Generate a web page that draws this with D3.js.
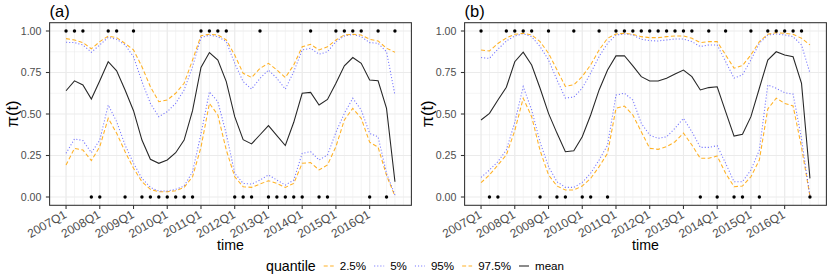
<!DOCTYPE html>
<html>
<head>
<meta charset="utf-8">
<script src="https://cdn.jsdelivr.net/npm/d3@7"></script>
<style>
  body { margin: 0; background: #fff; }
  text { font-family: "Liberation Sans", Arial, sans-serif; }
</style>
</head>
<body>
<div id="chart"></div>
<script>
// quarters 2007Q1 .. 2016Q4, x is the quarter index
const tickLabels = ["2007Q1", "2008Q1", "2009Q1", "2010Q1", "2011Q1", "2012Q1", "2013Q1", "2014Q1", "2015Q1", "2016Q1"];
const tickIndex = [0, 4, 8, 12, 16, 20, 24, 28, 32, 36];
const yTicks = [0, 0.25, 0.5, 0.75, 1];
const quantileNames = ["2.5%", "5%", "95%", "97.5%", "mean"];

// panel (a)
const obsA = [1,1,1,0,0,1,1,0,1,0, 0,0,0,0,0,0,1,1,1,1, 0,0,0,1,0,0,0,0,0,1, 0,0,1,1,1,1,0,1,0,1];
const meanA = [0.64, 0.70, 0.675, 0.59, 0.70, 0.815, 0.76, 0.645, 0.52, 0.343, 0.227, 0.203, 0.223, 0.267, 0.343, 0.52, 0.78, 0.87, 0.825, 0.695,
  0.484, 0.345, 0.32, 0.375, 0.43, 0.37, 0.31, 0.45, 0.625, 0.63, 0.554, 0.588, 0.685, 0.79, 0.84, 0.805, 0.705, 0.70, 0.534, 0.092];
const q975A = [0.954, 0.946, 0.93, 0.893, 0.936, 0.97, 0.96, 0.925, 0.886, 0.785, 0.664, 0.574, 0.584, 0.625, 0.685, 0.825, 0.972, 0.98, 0.976, 0.946,
  0.855, 0.745, 0.72, 0.775, 0.805, 0.765, 0.72, 0.795, 0.905, 0.92, 0.886, 0.905, 0.946, 0.976, 0.98, 0.976, 0.95, 0.94, 0.896, 0.872];
const q95A = [0.932, 0.93, 0.916, 0.872, 0.916, 0.962, 0.95, 0.916, 0.845, 0.695, 0.564, 0.484, 0.514, 0.564, 0.645, 0.785, 0.96, 0.975, 0.966, 0.936,
  0.805, 0.695, 0.65, 0.715, 0.765, 0.715, 0.65, 0.755, 0.886, 0.896, 0.86, 0.875, 0.936, 0.97, 0.98, 0.966, 0.93, 0.926, 0.875, 0.614];
const q05A = [0.263, 0.35, 0.34, 0.267, 0.343, 0.554, 0.454, 0.313, 0.203, 0.112, 0.058, 0.036, 0.036, 0.046, 0.066, 0.152, 0.38, 0.634, 0.574, 0.38,
  0.143, 0.082, 0.078, 0.102, 0.133, 0.102, 0.072, 0.102, 0.263, 0.273, 0.223, 0.253, 0.39, 0.504, 0.595, 0.524, 0.383, 0.363, 0.143, 0.012];
const q025A = [0.193, 0.293, 0.283, 0.219, 0.303, 0.474, 0.384, 0.273, 0.173, 0.092, 0.046, 0.032, 0.032, 0.038, 0.058, 0.122, 0.30, 0.564, 0.494, 0.283,
  0.122, 0.062, 0.058, 0.078, 0.098, 0.082, 0.058, 0.082, 0.203, 0.207, 0.163, 0.193, 0.303, 0.464, 0.534, 0.474, 0.33, 0.30, 0.13, 0.005];

// panel (b)
const obsB = [1,0,0,1,1,1,1,0,1,0, 0,1,0,0,1,0,1,1,1,1, 1,1,1,1,1,1,0,1,0,1, 0,0,1,0,1,1,1,1,1,0];
const meanB = [0.464, 0.504, 0.584, 0.661, 0.815, 0.872, 0.795, 0.655, 0.504, 0.385, 0.273, 0.279, 0.363, 0.494, 0.645, 0.765, 0.85, 0.851, 0.79, 0.725,
  0.699, 0.699, 0.715, 0.741, 0.765, 0.725, 0.645, 0.659, 0.664, 0.514, 0.367, 0.378, 0.484, 0.655, 0.825, 0.875, 0.855, 0.845, 0.685, 0.112];
const q975B = [0.885, 0.88, 0.925, 0.958, 0.98, 0.986, 0.976, 0.936, 0.866, 0.766, 0.666, 0.676, 0.726, 0.796, 0.886, 0.956, 0.982, 0.986, 0.98, 0.966,
  0.96, 0.96, 0.966, 0.97, 0.97, 0.956, 0.93, 0.936, 0.936, 0.856, 0.776, 0.792, 0.856, 0.936, 0.98, 0.99, 0.986, 0.98, 0.956, 0.916];
const q95B = [0.84, 0.835, 0.89, 0.94, 0.97, 0.984, 0.966, 0.906, 0.826, 0.706, 0.596, 0.602, 0.656, 0.746, 0.846, 0.926, 0.976, 0.982, 0.976, 0.95,
  0.942, 0.94, 0.946, 0.952, 0.952, 0.936, 0.906, 0.916, 0.916, 0.816, 0.716, 0.736, 0.826, 0.926, 0.976, 0.982, 0.976, 0.966, 0.916, 0.746];
const q05B = [0.118, 0.163, 0.213, 0.283, 0.45, 0.665, 0.524, 0.33, 0.183, 0.092, 0.058, 0.058, 0.088, 0.143, 0.223, 0.313, 0.614, 0.625, 0.584, 0.444,
  0.373, 0.353, 0.363, 0.414, 0.474, 0.393, 0.299, 0.299, 0.309, 0.203, 0.092, 0.092, 0.163, 0.283, 0.675, 0.655, 0.628, 0.62, 0.35, 0.005];
const q025B = [0.086, 0.133, 0.193, 0.253, 0.40, 0.595, 0.484, 0.28, 0.133, 0.066, 0.042, 0.042, 0.066, 0.112, 0.183, 0.263, 0.534, 0.548, 0.494, 0.393,
  0.293, 0.287, 0.303, 0.333, 0.385, 0.313, 0.233, 0.233, 0.247, 0.143, 0.062, 0.066, 0.122, 0.223, 0.53, 0.595, 0.564, 0.548, 0.30, 0.005];

const width = 830, height = 277;
const styles = {
  "2.5%":  { color: "#FFA500", dash: "4,2.4", opacity: 0.85 },
  "5%":    { color: "#3b3bff", dash: "1.1,2", opacity: 0.7 },
  "95%":   { color: "#3b3bff", dash: "1.1,2", opacity: 0.7 },
  "97.5%": { color: "#FFA500", dash: "4,2.4", opacity: 0.85 },
  "mean":  { color: "#000000", dash: null, opacity: 0.85 }
};

const svg = d3.select("#chart").append("svg")
  .attr("width", width).attr("height", height);

function drawPanel(left, right, tag, obs, series) {
  const top = 22.7, bottom = 205.3;
  const x = d3.scaleLinear().domain([-1.95, 40.95]).range([left, right]);
  const y = d3.scaleLinear().domain([-0.05, 1.05]).range([bottom, top]);
  const g = svg.append("g");

  // grid: minor (quarters / eighths) then major
  const quarters = d3.range(0, 41);
  g.selectAll(".vminor").data(quarters).enter().append("line")
    .attr("x1", d => x(d)).attr("x2", d => x(d))
    .attr("y1", top).attr("y2", bottom)
    .attr("stroke", "#ebebeb").attr("stroke-width", 0.55);
  g.selectAll(".hminor").data([0.125, 0.375, 0.625, 0.875]).enter().append("line")
    .attr("x1", left).attr("x2", right)
    .attr("y1", d => y(d)).attr("y2", d => y(d))
    .attr("stroke", "#ebebeb").attr("stroke-width", 0.55);
  g.selectAll(".vmajor").data(tickIndex).enter().append("line")
    .attr("x1", d => x(d)).attr("x2", d => x(d))
    .attr("y1", top).attr("y2", bottom)
    .attr("stroke", "#ebebeb").attr("stroke-width", 1.07);
  g.selectAll(".hmajor").data(yTicks).enter().append("line")
    .attr("x1", left).attr("x2", right)
    .attr("y1", d => y(d)).attr("y2", d => y(d))
    .attr("stroke", "#ebebeb").attr("stroke-width", 1.07);

  // quantile and mean lines
  const line = d3.line().x((d, i) => x(i)).y(d => y(d));
  series.forEach(s => {
    const st = styles[s.name];
    g.append("path")
      .datum(s.values)
      .attr("d", line)
      .attr("fill", "none")
      .attr("stroke", st.color)
      .attr("stroke-opacity", st.opacity)
      .attr("stroke-width", 1.07)
      .attr("stroke-dasharray", st.dash);
  });

  // observed outcomes
  g.selectAll(".pt").data(obs).enter().append("circle")
    .attr("cx", (d, i) => x(i))
    .attr("cy", d => y(d))
    .attr("r", 1.7)
    .attr("fill", "#000");

  // panel border
  g.append("rect")
    .attr("x", left).attr("y", top)
    .attr("width", right - left).attr("height", bottom - top)
    .attr("fill", "none").attr("stroke", "#333333").attr("stroke-width", 1.07);

  // y axis
  g.selectAll(".ytick").data(yTicks).enter().append("line")
    .attr("x1", left - 3.7).attr("x2", left)
    .attr("y1", d => y(d)).attr("y2", d => y(d))
    .attr("stroke", "#333333").attr("stroke-width", 1.07);
  g.selectAll(".ylab").data(yTicks).enter().append("text")
    .attr("x", left - 8.2).attr("y", d => y(d))
    .attr("dy", "0.36em")
    .attr("text-anchor", "end")
    .attr("font-size", "10.6px")
    .attr("fill", "#4d4d4d")
    .text(d => d3.format(".2f")(d));

  // x axis
  g.selectAll(".xtick").data(tickIndex).enter().append("line")
    .attr("x1", d => x(d)).attr("x2", d => x(d))
    .attr("y1", bottom).attr("y2", bottom + 3.7)
    .attr("stroke", "#333333").attr("stroke-width", 1.07);
  g.selectAll(".xlab").data(tickIndex).enter().append("text")
    .attr("transform", d => "translate(" + (x(d) + 1.5) + "," + (bottom + 11.5) + ") rotate(-30)")
    .attr("text-anchor", "end")
    .attr("font-size", "12px")
    .attr("fill", "#4d4d4d")
    .text((d, i) => tickLabels[i]);

  // titles
  g.append("text")
    .attr("x", (left + right) / 2).attr("y", 250)
    .attr("text-anchor", "middle")
    .attr("font-size", "14.2px")
    .text("time");
  g.append("text")
    .attr("transform", "translate(" + (left - 32) + "," + ((top + bottom) / 2) + ") rotate(-90)")
    .attr("text-anchor", "middle")
    .attr("font-size", "16.5px")
    .attr("font-family", "DejaVu Serif, serif")
    .text("\u03c0(t)");
  g.append("text")
    .attr("x", left).attr("y", 16.6)
    .attr("font-size", "16.5px")
    .text(tag);
}

drawPanel(49.6, 411.4, "(a)", obsA, [
  { name: "2.5%", values: q025A },
  { name: "5%", values: q05A },
  { name: "95%", values: q95A },
  { name: "97.5%", values: q975A },
  { name: "mean", values: meanA }
]);

drawPanel(464.6, 826.4, "(b)", obsB, [
  { name: "2.5%", values: q025B },
  { name: "5%", values: q05B },
  { name: "95%", values: q95B },
  { name: "97.5%", values: q975B },
  { name: "mean", values: meanB }
]);

// legend
const legend = svg.append("g");
const legendY = 266;
let cursor = 266;
const title = legend.append("text")
  .attr("x", cursor).attr("y", legendY)
  .attr("dy", "0.35em")
  .attr("font-size", "14.2px")
  .text("quantile");
cursor += title.node().getComputedTextLength() + 8;
quantileNames.forEach(name => {
  const st = styles[name];
  legend.append("line")
    .attr("x1", cursor).attr("x2", cursor + 10)
    .attr("y1", legendY).attr("y2", legendY)
    .attr("stroke", st.color)
    .attr("stroke-opacity", st.opacity)
    .attr("stroke-width", 1.07)
    .attr("stroke-dasharray", st.dash);
  const t = legend.append("text")
    .attr("x", cursor + 16).attr("y", legendY)
    .attr("dy", "0.35em")
    .attr("font-size", "11.6px")
    .text(name);
  cursor += 16 + t.node().getComputedTextLength() + 8;
});
</script>
</body>
</html>
